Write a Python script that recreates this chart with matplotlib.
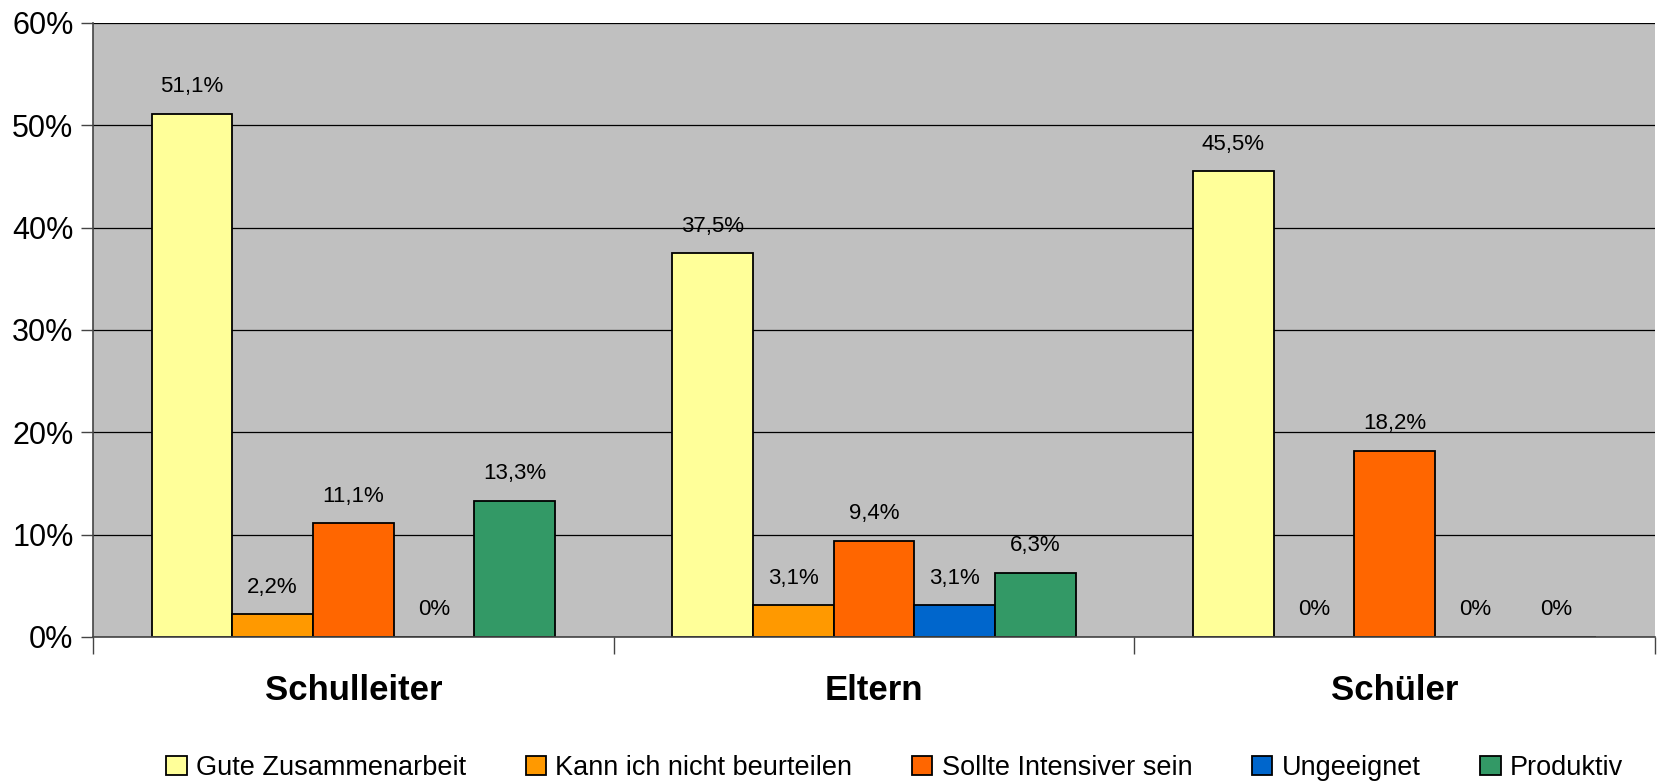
import numpy as np
import matplotlib.pyplot as plt
from matplotlib.ticker import FixedLocator

plt.rcParams['font.family'] = ['Liberation Sans', 'DejaVu Sans']

groups = ["Schulleiter", "Eltern", "Schüler"]
series = ["Gute Zusammenarbeit", "Kann ich nicht beurteilen", "Sollte Intensiver sein",
          "Ungeeignet", "Produktiv"]
gute = [51.1, 37.5, 45.5]
kann = [2.2, 3.1, 0.0]
sollte = [11.1, 9.4, 18.2]
ungeeignet = [0.0, 3.1, 0.0]
produktiv = [13.3, 6.3, 0.0]
colors = ["#FFFF99", "#FF9900", "#FF6600", "#0066CC", "#339966"]

values = [gute, kann, sollte, ungeeignet, produktiv]

fig = plt.figure(figsize=(16.57, 7.84), dpi=100)
ax = fig.add_axes([0.0561, 0.1875, 0.9427, 0.7832])
ax.set_facecolor("#C0C0C0")

x = np.arange(len(groups))
w = 0.155
for i, (name, vals) in enumerate(zip(series, values)):
    pos = x + (i - 2) * w
    ax.bar(pos, vals, w, color=colors[i], edgecolor="black", linewidth=1.3,
           label=name, zorder=3)
    for xp, v in zip(pos, vals):
        txt = "0%" if v == 0 else f"{v:.1f}%".replace(".", ",")
        ax.annotate(txt, (xp, v), xytext=(0, 12), textcoords="offset points",
                    ha="center", va="bottom", fontsize=16, zorder=4)

ax.set_xlim(-0.5, 2.5)
ax.set_ylim(0, 60)
ax.set_yticks(range(0, 61, 10))
ax.set_yticklabels([f"{t}%" for t in range(0, 61, 10)], fontsize=22)
ax.yaxis.grid(True, color="black", linewidth=0.9, zorder=0)
ax.tick_params(axis="y", length=9, width=1, color="#444444", pad=5)

ax.xaxis.set_major_locator(FixedLocator([-0.5, 0.5, 1.5, 2.5]))
ax.set_xticklabels([])
ax.xaxis.set_minor_locator(FixedLocator(x))
ax.set_xticklabels(groups, minor=True, fontsize=25, fontweight="bold")
ax.tick_params(axis="x", which="minor", length=0, pad=27)
ax.tick_params(axis="x", which="major", length=12, width=1, color="#444444")

for s in ["top", "right"]:
    ax.spines[s].set_visible(False)
for s in ["left", "bottom"]:
    ax.spines[s].set_color("#444444")
    ax.spines[s].set_linewidth(1.2)
    ax.spines[s].set_zorder(5)

leg = fig.legend(loc="center", bbox_to_anchor=(0.54, 0.0204), ncol=5, frameon=False,
                 fontsize=19.5, handlelength=0.75, handleheight=0.75, handletextpad=0.35,
                 columnspacing=2.2)
for h in leg.legend_handles:
    h.set_linewidth(1.3)

fig.savefig("out.png", dpi=100)
